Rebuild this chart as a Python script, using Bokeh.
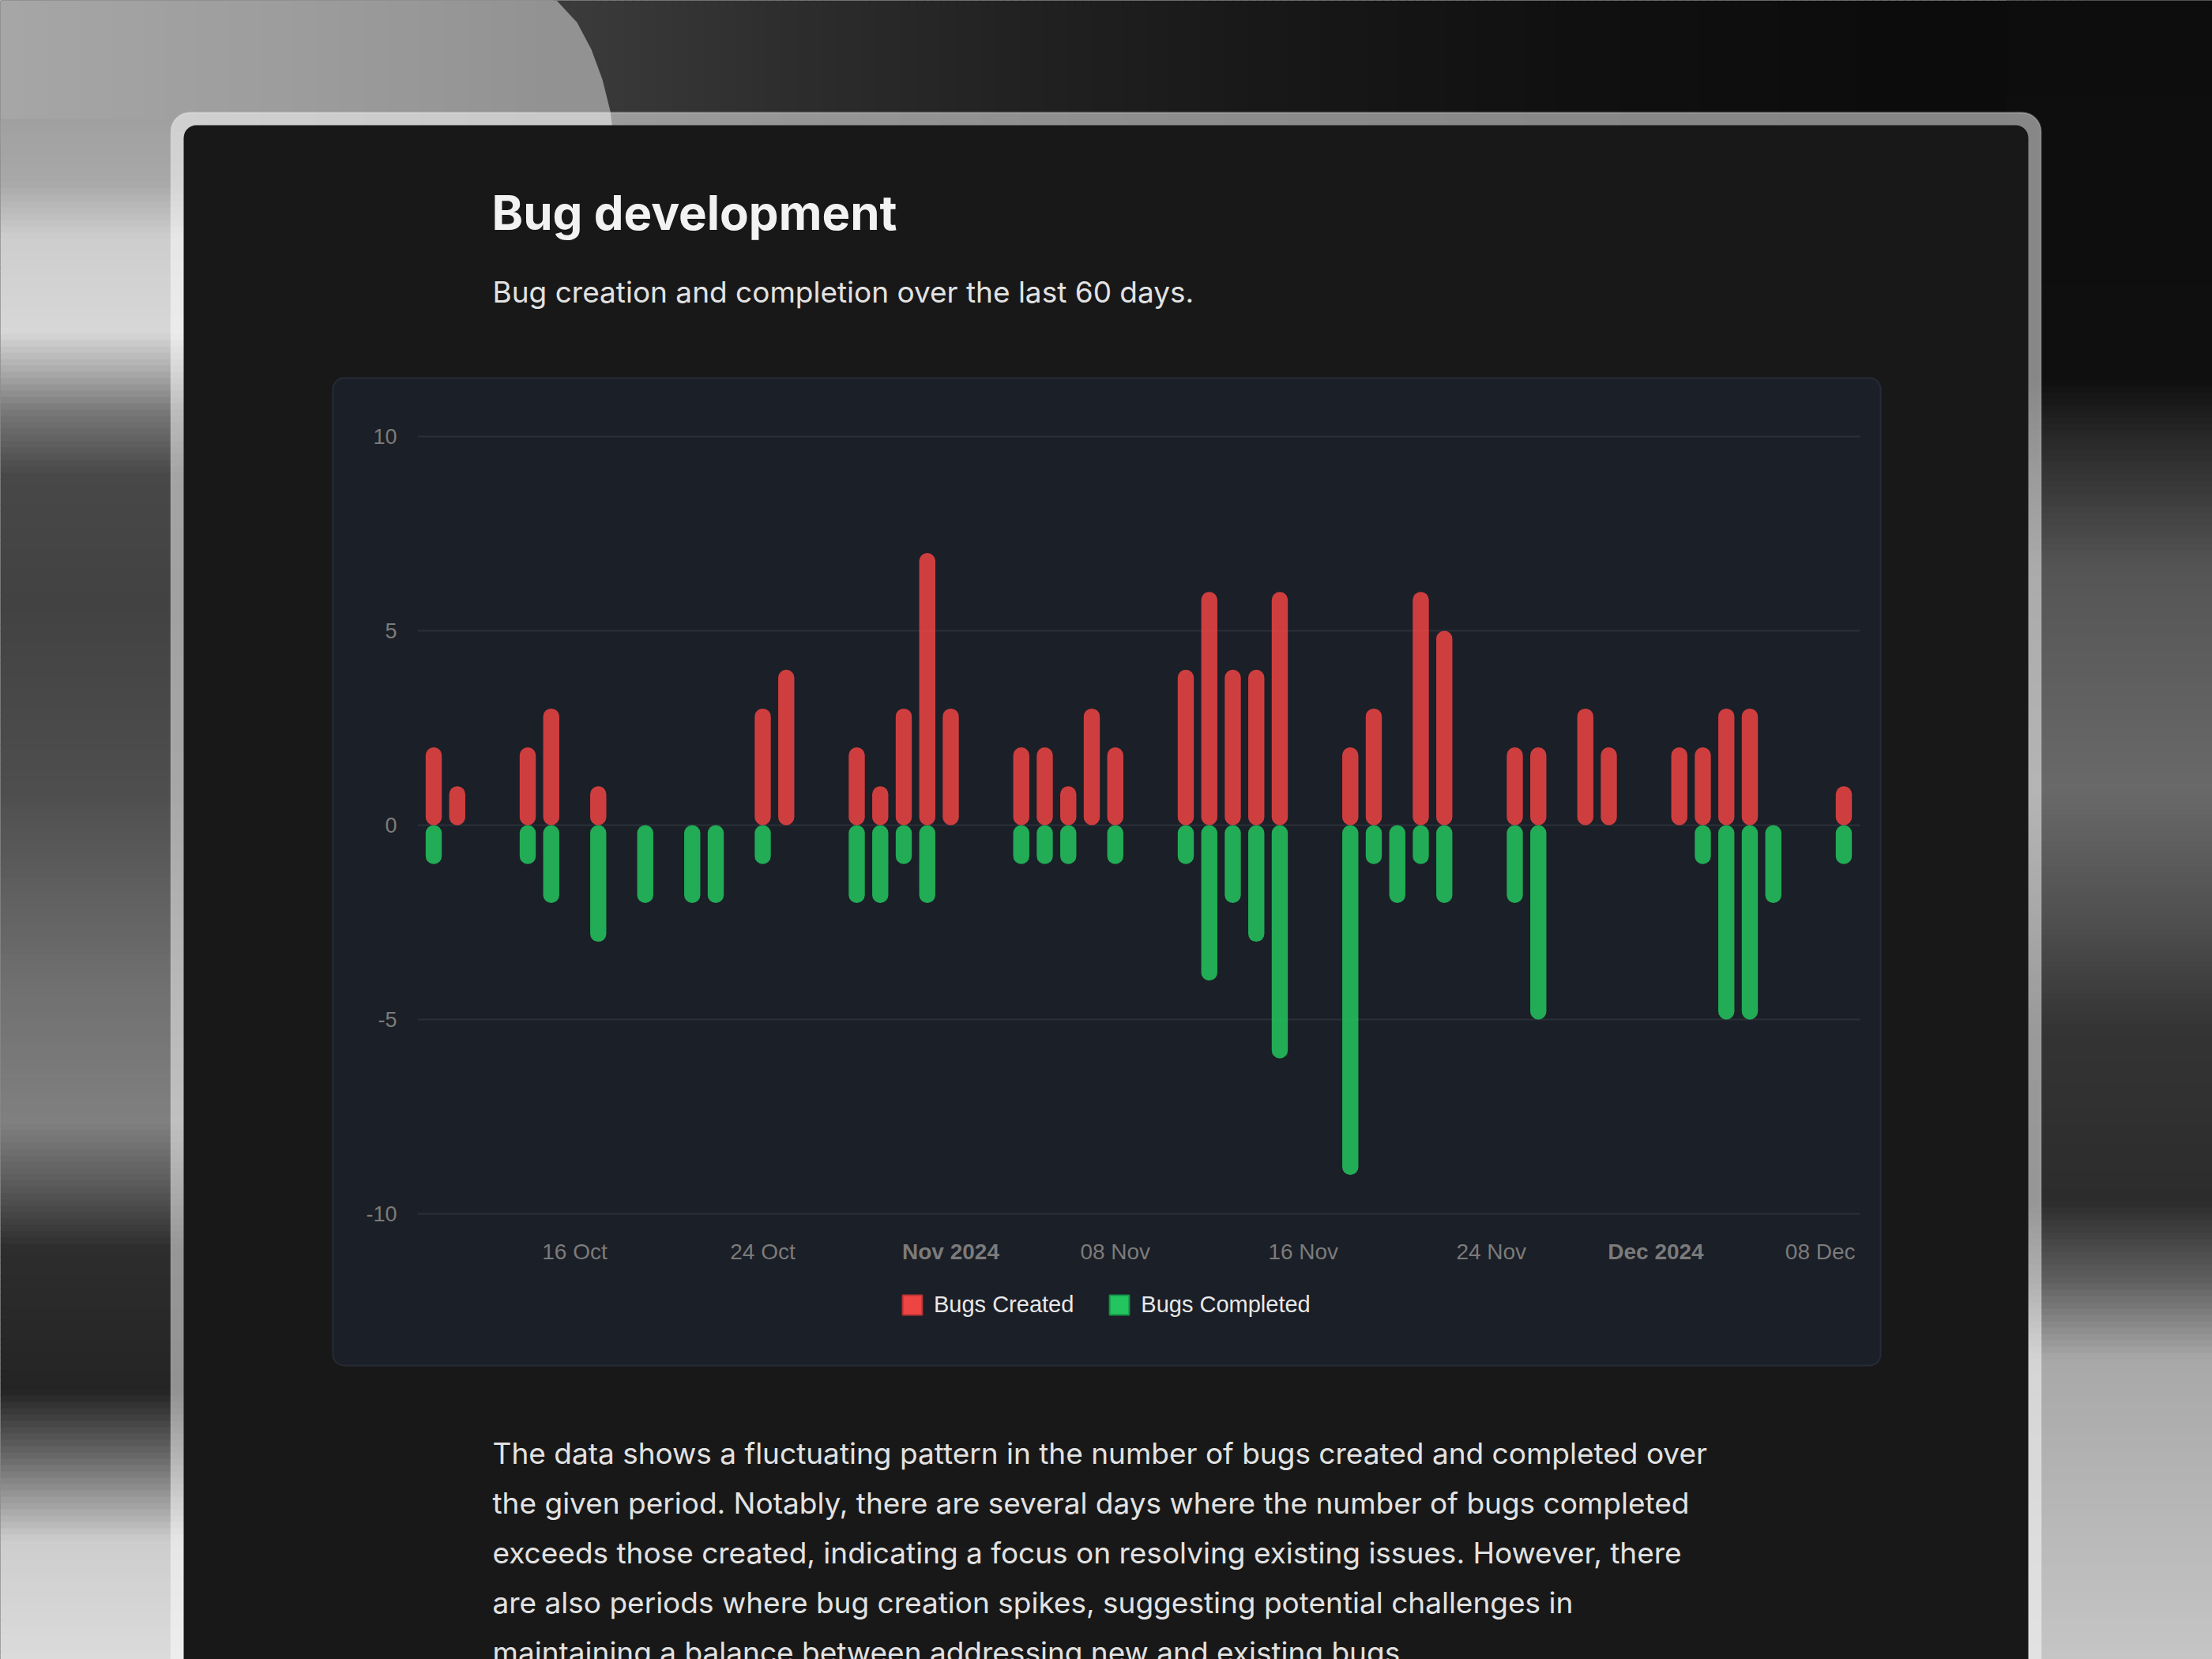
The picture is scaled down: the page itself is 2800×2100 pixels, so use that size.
import numpy as np
import pandas as pd
from bokeh.plotting import figure
from bokeh.models import Range1d, ColumnDataSource, Legend, LegendItem
from bokeh.core.properties import value
from bokeh.embed import file_html
from bokeh.resources import INLINE

# ---------------- data ----------------
start_date = "2024-10-10"
n_days = 61
bugs_created = [2, 1, 0, 0, 2, 3, 0, 1, 0, 0,
                0, 0, 0, 0, 3, 4, 0, 0, 2, 1,
                3, 7, 3, 0, 0, 2, 2, 1, 3, 2,
                0, 0, 4, 6, 4, 4, 6, 0, 0, 2,
                3, 0, 6, 5, 0, 0, 2, 2, 0, 3,
                2, 0, 0, 2, 2, 3, 3, 0, 0, 0,
                1]
bugs_completed = [-1, 0, 0, 0, -1, -2, 0, -3, 0, -2,
                  0, -2, -2, 0, -1, 0, 0, 0, -2, -2,
                  -1, -2, 0, 0, 0, -1, -1, -1, 0, -1,
                  0, 0, -1, -4, -2, -3, -6, 0, 0, -9,
                  -1, -2, -1, -2, 0, 0, -2, -5, 0, 0,
                  0, 0, 0, 0, -1, -5, -5, -2, 0, 0,
                  -1]
series_names = ["Bugs Created", "Bugs Completed"]
tick_dates = ["2024-10-16", "2024-10-24", "2024-11-01", "2024-11-08",
              "2024-11-16", "2024-11-24", "2024-12-01", "2024-12-08"]
tick_labels = ["16 Oct", "24 Oct", "Nov 2024", "08 Nov", "16 Nov", "24 Nov", "Dec 2024", "08 Dec"]
tick_styles = ["normal", "normal", "bold", "normal", "normal", "normal", "bold", "normal"]
y_ticks = [-10, -5, 0, 5, 10]

title = "Bug development"
subtitle = "Bug creation and completion over the last 60 days."
paragraph = [
    "The data shows a fluctuating pattern in the number of bugs created and completed over",
    "the given period. Notably, there are several days where the number of bugs completed",
    "exceeds those created, indicating a focus on resolving existing issues. However, there",
    "are also periods where bug creation spikes, suggesting potential challenges in",
    "maintaining a balance between addressing new and existing bugs.",
]

# ---------------- layout constants (page pixels) ----------------
W, H = 2800, 2100
PL, PR, PT, PB = 528, 2354, 552, 1536     # plot area: x extent, y=max tick, y=min tick
RED, GREEN = "#ef4444", "#22c55e"
PANEL = "#1b1f27"
CARD = "#181818"
TICK_COLOR = "#7b7b7b"
DAY_MS = 86400000.0

dates = pd.date_range(start_date, periods=n_days, freq="D")
pad = pd.Timedelta(days=0.69)
bar_w = 0.686 * DAY_MS
x_lo = (dates[0] - pad).value / 1e6
x_hi = (dates[-1] + pad).value / 1e6
y_lo, y_hi = min(y_ticks), max(y_ticks)

# the data ranges are widened so that the plot area lands where the page places it
xpp = (x_hi - x_lo) / (PR - PL)
ypp = (y_hi - y_lo) / (PB - PT)
x_range = Range1d(x_lo - PL * xpp, x_hi + (W - PR) * xpp)
y_range = Range1d(y_lo - (H - PB) * ypp, y_hi + PT * ypp)

src = ColumnDataSource(dict(date=dates, created=bugs_created, completed=bugs_completed))

p = figure(width=W, height=H, output_backend="svg", toolbar_location=None,
           x_axis_type=None, y_axis_type=None, x_range=x_range, y_range=y_range,
           min_border=0, min_border_left=0, min_border_right=0,
           min_border_top=0, min_border_bottom=0)
p.extra_x_ranges = {"px": Range1d(0, W)}
p.extra_y_ranges = {"py": Range1d(H, 0)}
p.background_fill_color = CARD
p.border_fill_color = CARD
p.outline_line_color = None

PX = dict(x_range_name="px", y_range_name="py")


def gray(g):
    g = int(round(g))
    return "#%02x%02x%02x" % (g, g, g)


def ybands(x0, x1, stops, step=8):
    pos = [s[0] for s in stops]
    lv = [s[1] for s in stops]
    ys = np.arange(pos[0], pos[-1], step)
    cols = [gray(np.interp(y + step / 2, pos, lv)) for y in ys]
    p.quad(left=x0, right=x1, top=ys, bottom=ys + step + 1, fill_color=cols,
           line_color=None, **PX)


def xbands(y0, y1, stops, step=10):
    pos = [s[0] for s in stops]
    lv = [s[1] for s in stops]
    xs = np.arange(pos[0], pos[-1], step)
    cols = [gray(np.interp(x + step / 2, pos, lv)) for x in xs]
    p.quad(left=xs, right=xs + step + 1, top=y0, bottom=y1, fill_color=cols,
           line_color=None, **PX)


# ---------------- page background (outside the card) ----------------
# top: dark to the right, light blob on the left ending in a curved edge
xbands(0, 180, [(700, 60), (1000, 45), (1300, 33), (1600, 24), (2000, 16),
                (2400, 12), (2810, 11)])
xbands(0, 180, [(0, 166), (350, 157), (700, 146)])
p.patch([699, 704, 730, 748, 762, 772, 777, 699], [0, 0, 28, 62, 100, 140, 180, 180],
        fill_color=gray(146), line_color=None, **PX)
# left side
ybands(0, 262, [(150, 160), (230, 168), (300, 205), (420, 215), (470, 170), (520, 120),
                (600, 72), (760, 66), (1000, 78), (1250, 112), (1420, 128), (1500, 90),
                (1580, 45), (1760, 36), (1850, 110), (1950, 205), (2110, 220)])
# right side
ybands(2540, 2810, [(0, 13), (480, 15), (560, 42), (720, 85), (1000, 105), (1160, 80),
                    (1300, 52), (1520, 44), (1620, 95), (1720, 168), (2110, 198)])

# translucent frame, card, chart panel
p.quad(left=216, right=2583, top=142, bottom=2340, border_radius=24,
       fill_color="white", fill_alpha=0.5, line_color="white", line_alpha=0.25, line_width=2, **PX)
p.quad(left=232, right=2567, top=158, bottom=2330, border_radius=16,
       fill_color=CARD, line_color=None, **PX)
p.quad(left=421, right=2380, top=478, bottom=1728, border_radius=14,
       fill_color=PANEL, line_color="#262b35", line_width=2, **PX)

# ---------------- chart ----------------
p.segment(x0=x_lo, x1=x_hi, y0=y_ticks, y1=y_ticks, line_color="#2b3039", line_width=2)
p.text(x=502, y=y_ticks, text=[str(t) for t in y_ticks], x_range_name="px",
       text_font=value("Liberation Sans"), text_font_size="27px", text_color=TICK_COLOR,
       text_align="right", text_baseline="middle")
p.text(x=pd.to_datetime(tick_dates), y=1584, text=tick_labels, y_range_name="py",
       text_font=value("Liberation Sans"), text_font_size="28px", text_font_style=tick_styles,
       text_color=TICK_COLOR, text_align="center", text_baseline="alphabetic")

# legend swatches (zero-size marks on the first day, hidden under its bars)
leg_r = p.vbar(x=dates[:1], top=[0], bottom=[0], width=0, fill_color=RED,
               line_color="#b53434", line_width=2)
leg_g = p.vbar(x=dates[:1], top=[0], bottom=[0], width=0, fill_color=GREEN,
               line_color="#178f45", line_width=2)

p.vbar(x="date", top="created", bottom=0, width=bar_w, source=src,
       fill_color=RED, fill_alpha=0.85, line_color=None, border_radius=10)
p.vbar(x="date", top=0, bottom="completed", width=bar_w, source=src,
       fill_color=GREEN, fill_alpha=0.85, line_color=None, border_radius=10)

# ---------------- texts ----------------
p.text(x=622, y=268, text=[title], text_font=value("Inter"), text_font_size="60px",
       text_font_style="bold", text_color="#f2f2f2", text_baseline="alphabetic", **PX)
p.text(x=623, y=369, text=[subtitle], text_font=value("Inter"), text_font_size="37px",
       text_color="#e2e2e2", text_baseline="alphabetic", **PX)
p.text(x=623, y=[1839 + 63 * i for i in range(len(paragraph))], text=paragraph,
       text_font=value("Inter"), text_font_size="37px", text_color="#e2e2e2",
       text_baseline="alphabetic", **PX)

legend = Legend(items=[LegendItem(label=series_names[0], renderers=[leg_r]),
                       LegendItem(label=series_names[1], renderers=[leg_g])],
                orientation="horizontal", location=(1139, H - 1668),
                background_fill_alpha=0, border_line_alpha=0, padding=0, margin=0,
                spacing=42, label_standoff=12, glyph_width=31, glyph_height=31,
                label_height=31,
                label_text_font="Liberation Sans", label_text_font_size="29px",
                label_text_color="#e8e8e8")
p.add_layout(legend)

open("out.html", "w").write(file_html(p, INLINE))
